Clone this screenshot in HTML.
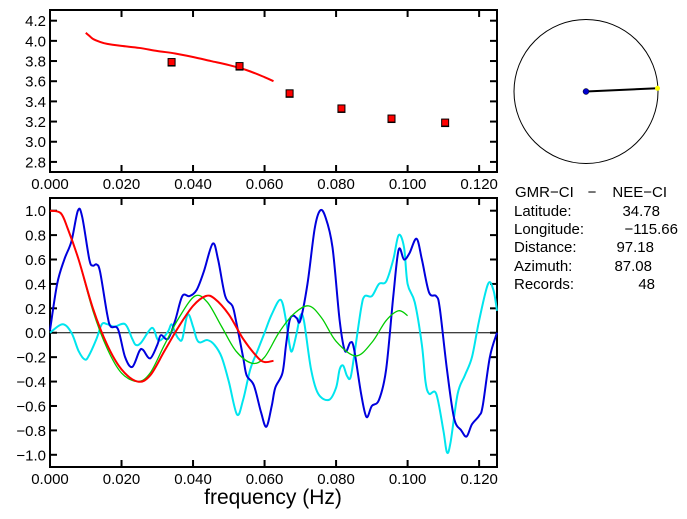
<!DOCTYPE html>
<html><head><meta charset="utf-8"><style>
html,body{margin:0;padding:0;background:#fff;}
svg{display:block;font-family:"Liberation Sans",sans-serif;}
</style></head><body>
<svg id="chart" width="687" height="519" viewBox="0 0 687 519" xmlns="http://www.w3.org/2000/svg">
<g id="top"></g>
<g id="bot"></g>
<g id="side">
  <circle cx="586" cy="91.5" r="72" fill="none" stroke="#000" stroke-width="1"/>
  <line x1="586" y1="91.5" x2="657.5" y2="88.3" stroke="#000" stroke-width="2"/>
  <circle cx="586" cy="91.5" r="3" fill="#0000cc" stroke="#000" stroke-width="0.5"/>
  <circle cx="657.5" cy="88.3" r="2.5" fill="#ffff00"/>
</g>
<g font-size="15" fill="#000">
  <text x="515" y="197">GMR−CI</text>
  <text x="592" y="197" text-anchor="middle">−</text>
  <text x="667" y="197" text-anchor="end">NEE−CI</text>
  <text x="514" y="216">Latitude:</text>
  <text x="660" y="216" text-anchor="end">34.78</text>
  <text x="514" y="234">Longitude:</text>
  <text x="678" y="234" text-anchor="end">−115.66</text>
  <text x="514" y="252">Distance:</text>
  <text x="654" y="252" text-anchor="end">97.18</text>
  <text x="514" y="271">Azimuth:</text>
  <text x="652" y="271" text-anchor="end">87.08</text>
  <text x="514" y="289">Records:</text>
  <text x="655" y="289" text-anchor="end">48</text>
</g>
<text x="273" y="504" font-size="21" text-anchor="middle">frequency  (Hz)</text>
</svg>
<script>
const xTicks=[0,0.02,0.04,0.06,0.08,0.10,0.12];
const xTickLabels=["0.000","0.020","0.040","0.060","0.080","0.100","0.120"];
const topYTicks=[2.8,3.0,3.2,3.4,3.6,3.8,4.0,4.2];
const botYTicks=[-1.0,-0.8,-0.6,-0.4,-0.2,0.0,0.2,0.4,0.6,0.8,1.0];
const velCurveF=[0.010,0.011,0.012,0.014,0.016,0.020,0.025,0.030,0.035,0.040,0.045,0.050,0.055,0.060,0.0625];
const velCurveV=[4.08,4.05,4.02,3.99,3.97,3.95,3.93,3.90,3.875,3.84,3.80,3.76,3.71,3.64,3.60];
const velPtsF=[0.034,0.053,0.067,0.0815,0.0955,0.1105];
const velPtsV=[3.79,3.75,3.48,3.33,3.23,3.19];
const blueF=[0,0.002,0.004,0.006,0.0078,0.009,0.011,0.012,0.013,0.014,0.016,0.017,0.019,0.021,0.023,0.025,0.026,0.028,0.030,0.031,0.033,0.035,0.037,0.039,0.041,0.043,0.0455,0.047,0.049,0.051,0.052,0.054,0.055,0.057,0.059,0.0605,0.062,0.063,0.065,0.066,0.067,0.068,0.069,0.070,0.072,0.074,0.0755,0.077,0.079,0.081,0.0825,0.084,0.085,0.087,0.0885,0.090,0.092,0.094,0.096,0.0975,0.099,0.1005,0.1025,0.104,0.106,0.108,0.109,0.111,0.113,0.115,0.1165,0.118,0.120,0.121,0.123,0.125];
const blueV=[0.02,0.4,0.6,0.75,1.0,0.95,0.6,0.55,0.56,0.5,0.15,0.05,0.03,-0.2,-0.28,-0.15,-0.14,-0.21,-0.1,-0.02,-0.05,0.1,0.3,0.3,0.35,0.5,0.73,0.6,0.3,0.22,0.1,-0.2,-0.35,-0.43,-0.65,-0.77,-0.6,-0.45,-0.33,-0.1,0.1,0.14,0.12,0.1,0.4,0.85,1.0,0.95,0.7,0.1,-0.15,-0.08,-0.13,-0.5,-0.69,-0.6,-0.55,-0.3,0.3,0.68,0.6,0.65,0.77,0.6,0.33,0.3,0.2,-0.3,-0.7,-0.8,-0.85,-0.75,-0.68,-0.6,-0.2,0.0];
const cyanF=[0,0.0035,0.006,0.008,0.0098,0.011,0.013,0.0145,0.016,0.018,0.021,0.023,0.024,0.0255,0.0285,0.030,0.031,0.033,0.034,0.035,0.036,0.037,0.0385,0.040,0.041,0.042,0.044,0.046,0.048,0.050,0.0523,0.054,0.056,0.058,0.060,0.062,0.0645,0.066,0.067,0.0677,0.069,0.070,0.071,0.073,0.075,0.078,0.080,0.081,0.082,0.083,0.084,0.085,0.087,0.088,0.090,0.092,0.094,0.096,0.0975,0.099,0.100,0.102,0.104,0.105,0.106,0.108,0.110,0.111,0.112,0.114,0.116,0.118,0.120,0.1225,0.124,0.125];
const cyanV=[0.0,0.07,0.0,-0.15,-0.22,-0.18,-0.05,0.07,0.07,0.05,0.07,-0.05,-0.1,-0.08,0.04,-0.05,-0.06,0.01,0.07,0.0,-0.05,-0.05,0.15,0.05,-0.05,-0.08,-0.06,-0.1,-0.2,-0.4,-0.67,-0.55,-0.3,-0.15,0.0,0.15,0.27,0.1,-0.1,-0.15,0.0,0.14,0.1,-0.3,-0.5,-0.55,-0.45,-0.3,-0.27,-0.35,-0.37,-0.2,0.2,0.3,0.3,0.4,0.42,0.6,0.8,0.7,0.4,0.25,-0.1,-0.4,-0.5,-0.5,-0.8,-0.98,-0.9,-0.5,-0.35,-0.2,0.1,0.4,0.35,0.18];
const redF=[0,0.003,0.005,0.008,0.012,0.016,0.020,0.0245,0.028,0.032,0.036,0.040,0.0435,0.046,0.050,0.054,0.058,0.060,0.0625];
const redV=[1.0,0.98,0.85,0.6,0.2,-0.1,-0.3,-0.4,-0.35,-0.15,0.05,0.22,0.3,0.28,0.15,-0.05,-0.2,-0.24,-0.23];
const greenF=[0,0.003,0.005,0.008,0.012,0.016,0.020,0.0245,0.028,0.032,0.036,0.0405,0.044,0.048,0.052,0.0565,0.060,0.064,0.068,0.0723,0.076,0.080,0.0855,0.090,0.094,0.0975,0.1];
const greenV=[1.0,0.98,0.85,0.6,0.18,-0.13,-0.33,-0.4,-0.33,-0.1,0.12,0.3,0.25,0.05,-0.15,-0.25,-0.2,0.0,0.15,0.22,0.12,-0.07,-0.19,-0.08,0.1,0.18,0.14];

const NS="http://www.w3.org/2000/svg";
function mk(tag,attrs,parent){const e=document.createElementNS(NS,tag);for(const k in attrs)e.setAttribute(k,attrs[k]);parent.appendChild(e);return e;}
const L=50,R=497;
const sx=f=>L+(f-0)/(0.125)*(R-L);
function makeY(top,bot,vTop,vBot){return v=>top+(vTop-v)/(vTop-vBot)*(bot-top);}
const topY=makeY(10,172,4.306,2.70);
const botY=makeY(198,467,1.104,-1.10);
function smooth(F,V,ys){const p=F.map((f,i)=>[sx(f),ys(V[i])]);let d="M"+p[0][0].toFixed(2)+","+p[0][1].toFixed(2);
 for(let i=0;i<p.length-1;i++){const p0=p[Math.max(0,i-1)],p1=p[i],p2=p[i+1],p3=p[Math.min(p.length-1,i+2)];
  const c1=[p1[0]+(p2[0]-p0[0])/6,p1[1]+(p2[1]-p0[1])/6],c2=[p2[0]-(p3[0]-p1[0])/6,p2[1]-(p3[1]-p1[1])/6];
  d+=" C"+c1.map(n=>n.toFixed(2))+" "+c2.map(n=>n.toFixed(2))+" "+p2.map(n=>n.toFixed(2));}
 return d;}
function axes(g,top,bot,ys,yTicks,dec,name){
 const fr=mk('rect',{x:L,y:top,width:R-L,height:bot-top,fill:'none',stroke:'#000','stroke-width':2},g);
 
 
 xTicks.forEach((t,i)=>{const x=sx(t);
  mk('line',{x1:x,y1:bot,x2:x,y2:bot-7,stroke:'#000','stroke-width':2},g);
  mk('line',{x1:x,y1:top,x2:x,y2:top+7,stroke:'#000','stroke-width':2},g);
  const tx=mk('text',{x:x,y:bot+17,'font-size':15,'text-anchor':'middle'},g);tx.textContent=xTickLabels[i];
  
  
 });
 yTicks.forEach(t=>{const y=ys(t);
  mk('line',{x1:L,y1:y,x2:L+7,y2:y,stroke:'#000','stroke-width':2},g);
  mk('line',{x1:R,y1:y,x2:R-7,y2:y,stroke:'#000','stroke-width':2},g);
  const tx=mk('text',{x:46,y:y+5.5,'font-size':15,'text-anchor':'end'},g);tx.textContent=(t<0?'−':'')+Math.abs(t).toFixed(dec);
  
  
 });}
const gt=document.getElementById('top'),gb=document.getElementById('bot');
axes(gt,10,172,topY,topYTicks,1,'top');
axes(gb,198,467,botY,botYTicks,1,'bottom');
let p=mk('path',{d:smooth(velCurveF,velCurveV,topY),fill:'none',stroke:'#ff0000','stroke-width':2},gt);


velPtsF.forEach((f,i)=>{const x=sx(f),y=topY(velPtsV[i]);
 mk('line',{x1:x-4,y1:y+4,x2:x+4,y2:y+4,stroke:'#000','stroke-width':1},gt);
 const r=mk('rect',{x:x-3.5,y:y-3.5,width:7,height:7,fill:'#ff0000',stroke:'#000','stroke-width':1},gt);
 
 });
const zl=mk('line',{x1:L,y1:botY(0),x2:R,y2:botY(0),stroke:'#000','stroke-width':1},gb);


[[cyanF,cyanV,'#00e5ee',2,'cyan-series'],[blueF,blueV,'#0000dd',2,'blue-series'],[greenF,greenV,'#00cc00',1.3,'green-series'],[redF,redV,'#ff0000',2,'red-series']].forEach(s=>{
 const e=mk('path',{d:smooth(s[0],s[1],botY),fill:'none',stroke:s[2],'stroke-width':s[3]},gb);
 
 });
</script>
</body></html>
